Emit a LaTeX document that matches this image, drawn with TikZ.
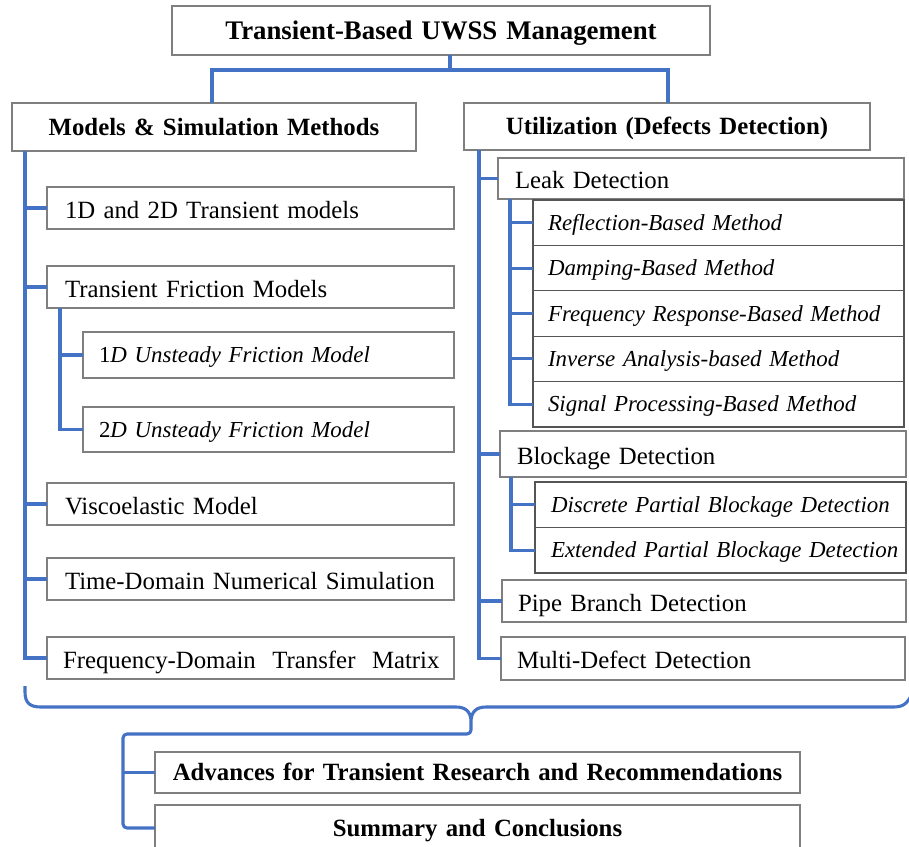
\documentclass[tikz,border=0pt]{standalone}
\usepackage{fontspec}
\setmainfont{Liberation Serif}
\newfontfamily\rgf{Liberation Serif}
\newfontfamily\bdf{Liberation Serif}
\definecolor{cblue}{HTML}{4472C4}
\definecolor{bgray}{HTML}{7F7F7F}
\definecolor{dgray}{HTML}{555555}
\tikzset{
 ubox/.style={draw=bgray, line width=1.3pt, fill=white, anchor=north west, outer sep=0pt, inner ysep=0pt, align=left},
 reg/.style={font=\rgf\fontsize{24.8}{28}\selectfont, text height=20pt, text depth=0pt},
 ita/.style={font=\rgf\itshape\fontsize{22.9}{26}\selectfont, text height=15pt, text depth=0pt},
 itd/.style={ita, draw=dgray},
 bld/.style={font=\bdf\bfseries\fontsize{24.8}{28}\selectfont, text height=16pt, text depth=0pt, align=center},
 bldT/.style={font=\bdf\bfseries\fontsize{26.8}{30}\selectfont, text height=17pt, text depth=0pt, align=center},
 conn/.style={draw=cblue, line width=3.1pt},
}
\newcommand\bx[8]{%
 \pgfmathsetmacro\tw{#4-2*#6}%
 \node[ubox,#7, inner xsep=#6pt, text width=\tw pt, minimum height=#5pt] (#1) at (#2,#3) {\mbox{#8}};}
\begin{document}
\begin{tikzpicture}[x=1pt,y=-1pt]
\useasboundingbox (0,0) rectangle (909,846);
\clip (0,0) rectangle (909,846);
\fill[white] (0,0) rectangle (909,846);

% boxes
\bx{T}{172}{6}{538}{49}{0}{bldT}{Transient-Based UWSS Management}
\bx{L}{12}{103}{404}{48}{0}{bld}{Models \& Simulation Methods}
\bx{R}{464}{103}{406}{47}{0}{bld}{Utilization (Defects Detection)}

\bx{a1}{47}{187}{407}{42}{18}{reg}{1D and 2D Transient models}
\bx{a2}{47}{266}{407}{42}{18}{reg}{Transient Friction Models}
\bx{a21}{83}{332}{371}{46}{16}{ita}{{\upshape 1}D Unsteady Friction Model}
\bx{a22}{83}{407}{371}{45}{16}{ita}{{\upshape 2}D Unsteady Friction Model}
\bx{a3}{47}{483}{407}{42}{18}{reg}{Viscoelastic Model}
\bx{a4}{47}{558}{407}{42}{18}{reg}{Time-Domain Numerical Simulation}
\bx{a5}{47}{637}{407}{42}{16}{reg}{Frequency-Domain\ \ Transfer\ \ Matrix}

\bx{b1}{498}{158}{406}{41}{17}{reg}{Leak Detection}
\bx{b11}{533}{200}{371}{45.4}{15}{itd}{Reflection-Based Method}
\bx{b12}{533}{245.4}{371}{45.4}{15}{itd}{Damping-Based Method}
\bx{b13}{533}{290.8}{371}{45.4}{15}{itd}{Frequency Response-Based Method}
\bx{b14}{533}{336.2}{371}{45.4}{15}{itd}{Inverse Analysis-based Method}
\bx{b15}{533}{381.6}{371}{45.4}{15}{itd}{Signal Processing-Based Method}
\bx{b2}{500}{431}{406}{46}{17}{reg}{Blockage Detection}
\bx{b21}{535}{482}{371}{45.5}{16}{itd}{Discrete Partial Blockage Detection}
\bx{b22}{535}{527.5}{371}{45.5}{16}{itd}{Extended Partial Blockage Detection}
\bx{b3}{502}{580}{404}{42}{16}{reg}{Pipe Branch Detection}
\bx{b4}{501}{637}{404}{43}{16}{reg}{Multi-Defect Detection}

\bx{A}{155}{752}{645}{41}{0}{bld}{Advances for Transient Research and Recommendations}
\bx{S}{155}{805}{645}{46}{0}{bld}{Summary and Conclusions}

% top connectors
\coordinate (tj) at (450,70);
\coordinate (lj) at (212,70);
\coordinate (rj) at (668,70);
\draw[conn] (T.south -| tj) -- (tj);
\draw[conn] (L.north -| lj) |- (rj) -- (R.north -| rj);

% left trunk
\coordinate (lt) at (25,0);
\draw[conn] (L.south -| lt) |- (a5.west);
\foreach \n in {a1,a2,a3,a4} \draw[conn] (\n.west -| lt) -- (\n.west);
\coordinate (st) at (60,0);
\draw[conn] (a2.south -| st) |- (a22.west);
\draw[conn] (a21.west -| st) -- (a21.west);

% right trunk
\coordinate (rt) at (479,0);
\draw[conn] (R.south -| rt) |- (b4.west);
\foreach \n in {b1,b2,b3} \draw[conn] (\n.west -| rt) -- (\n.west);
\coordinate (s1) at (510,0);
\draw[conn] (b1.south -| s1) |- (b15.west);
\foreach \n in {b11,b12,b13,b14} \draw[conn] (\n.west -| s1) -- (\n.west);
\coordinate (s2) at (511,0);
\draw[conn] (b2.south -| s2) |- (b22.west);
\draw[conn] (b21.west -| s2) -- (b21.west);

% brace
\coordinate (tip) at (471,722);
\draw[conn] (25,686) -- (25,692) .. controls (25,703) and (30,707) .. (41,707)
  -- (456,707) .. controls (466,707) and (471,712) .. (tip)
  .. controls (471,712) and (476,707) .. (486,707)
  -- (893,707) .. controls (903,707) and (907,704) .. (912,694);

% bottom connectors
\coordinate (bj) at (123,734);
\draw[conn, rounded corners=4pt] (tip) |- (bj) |- (S.west);
\draw[conn] (A.west -| bj) -- (A.west);
\end{tikzpicture}
\end{document}
